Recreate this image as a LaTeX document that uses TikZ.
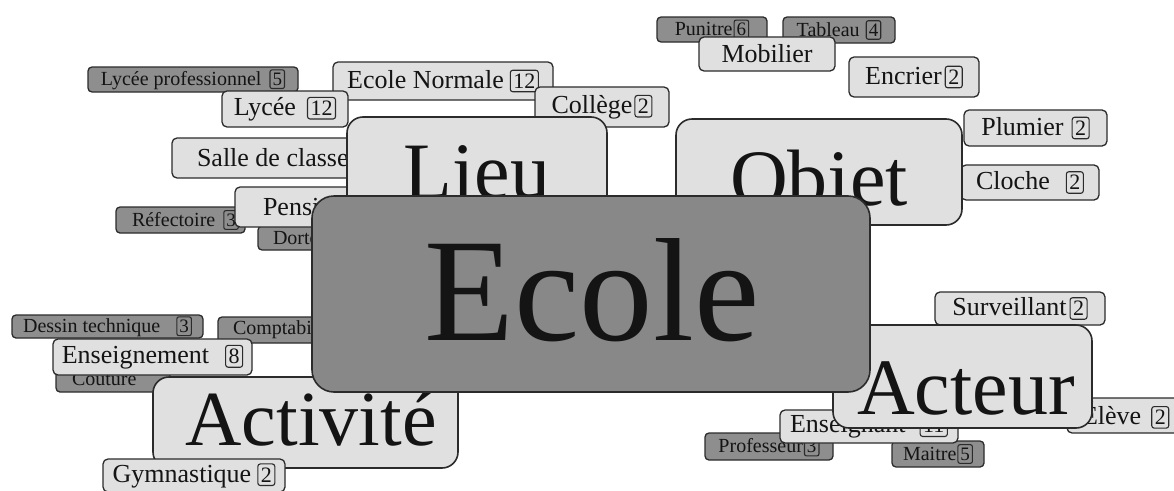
\documentclass[tikz,border=0pt]{standalone}
\usepackage{fontspec}
\setmainfont{Liberation Serif}
\definecolor{lightfill}{HTML}{E0E0E0}
\definecolor{darkfill}{HTML}{8E8E8E}
\definecolor{ecolefill}{HTML}{888888}
\definecolor{edgecol}{HTML}{2B2B2B}
\definecolor{ink}{HTML}{141414}
\tikzset{
 boxbase/.style={draw=edgecol, inner sep=0pt, text=ink, anchor=center},
 lvlthree/.style={boxbase, fill=darkfill, line width=1.3pt, rounded corners=4pt, font=\fontsize{20}{22}\selectfont},
 lvltwo/.style={boxbase, fill=lightfill, line width=1.3pt, rounded corners=5pt, font=\fontsize{26}{28}\selectfont},
 catbox/.style={boxbase, fill=lightfill, line width=1.6pt, rounded corners=16pt},
 ecolebox/.style={boxbase, fill=ecolefill, line width=1.6pt, rounded corners=22pt},
 cattext/.style={anchor=base, inner sep=0pt, text=ink, font=\fontsize{80}{80}\selectfont},
 numbase/.style={draw=edgecol, fill=none, anchor=center, minimum width=0pt, minimum height=0pt, text width=, align=center, line width=1.1pt, text=ink},
 numbig/.style={numbase, rounded corners=2.5pt, inner xsep=3pt, inner ysep=3.5pt, font=\fontsize{22}{22}\selectfont},
 numsmall/.style={numbase, rounded corners=2pt, inner xsep=2.5pt, inner ysep=3pt, font=\fontsize{19}{19}\selectfont},
}
\newcommand\nbig[1]{\tikz[baseline=(nb.base)]\node[numbig](nb){#1};}
\newcommand\nsmall[1]{\tikz[baseline=(ns.base)]\node[numsmall](ns){#1};}
\newcommand\bx[7]{%
 \pgfmathsetmacro\bxw{#5-#3}%
 \pgfmathsetmacro\bxh{#6-#4}%
 \pgfmathsetmacro\bxcx{(#3+#5)/2}%
 \pgfmathsetmacro\bxcy{(#4+#6)/2}%
 \node[#1, minimum width=\bxw pt, minimum height=\bxh pt] (#2) at (\bxcx,\bxcy) {#7};}
\newcommand\lft[2]{\makebox[\bxw pt][l]{\hspace*{#1pt}#2}}
\begin{document}
\begin{tikzpicture}[x=1pt,y=-1pt]
\useasboundingbox (0,0) rectangle (1174,490);
\clip (0,0) rectangle (1174,490);
% level 3 (dark)
\bx{lvlthree}{punitre}{657}{17}{767}{42}{Punitre\hspace{1pt}\nsmall{6}}
\bx{lvlthree}{tableau}{783}{17}{895}{43}{Tableau\hspace{6pt}\nsmall{4}}
\bx{lvlthree}{lyceepro}{88}{67}{298}{92}{Lycée professionnel\hspace{8pt}\nsmall{5}}
\bx{lvlthree}{refectoire}{116}{207}{245}{233}{\lft{16}{Réfectoire\hspace{8pt}\nsmall{3}}}
\bx{lvlthree}{dortoir}{258}{226}{345}{250}{\lft{15}{Dortoir}}
\bx{lvlthree}{dessin}{12}{315}{203}{338}{Dessin technique\hspace{16pt}\nsmall{3}}
\bx{lvlthree}{compta}{218}{317}{335}{343}{\lft{15}{Comptabilité}}
\bx{lvlthree}{couture}{56}{366}{170}{392}{\lft{16}{Couture}}
\bx{lvlthree}{professeur}{705}{433}{833}{460}{Professeur\hspace{1pt}\nsmall{3}}
\bx{lvlthree}{maitre}{892}{441}{984}{467}{Maitre\hspace{1pt}\nsmall{5}}
% level 2 (light)
\bx{lvltwo}{ecolenormale}{333}{62}{553}{100}{Ecole Normale\hspace{6pt}\nbig{12}}
\bx{lvltwo}{lycee}{222}{91}{348}{127}{Lycée\hspace{11pt}\nbig{12}}
\bx{lvltwo}{college}{535}{87}{669}{127}{Collège\hspace{2pt}\nbig{2}}
\bx{lvltwo}{mobilier}{699}{37}{835}{71}{Mobilier}
\bx{lvltwo}{encrier}{849}{57}{979}{97}{Encrier\hspace{3pt}\nbig{2}}
\bx{lvltwo}{plumier}{964}{110}{1107}{146}{Plumier\hspace{8pt}\nbig{2}}
\bx{lvltwo}{cloche}{961}{165}{1099}{200}{Cloche\hspace{16pt}\nbig{2}}
\bx{lvltwo}{salle}{172}{138}{360}{178}{\lft{25}{Salle de classe}}
\bx{lvltwo}{pension}{235}{187}{360}{227}{\lft{28}{Pension}}
\bx{lvltwo}{enseignement}{53}{339}{252}{375}{Enseignement\hspace{16pt}\nbig{8}}
\bx{lvltwo}{surveillant}{935}{292}{1105}{325}{Surveillant\hspace{3pt}\nbig{2}}
\bx{lvltwo}{eleve}{1067}{398}{1200}{433}{\lft{15}{Élève\hspace{10pt}\nbig{2}}}
\bx{lvltwo}{enseignant}{780}{410}{958}{443}{Enseignant\hspace{14pt}\nbig{11}}
% categories
\bx{catbox}{lieu}{347}{117}{607}{240}{}
\node[cattext] (lieuT) at (477,198) {Lieu};
\bx{catbox}{objet}{676}{119}{962}{225}{}
\node[cattext] (objetT) at (819,205) {Objet};
\bx{catbox}{activite}{153}{377}{458}{468}{}
\node[cattext,font=\fontsize{78}{78}\selectfont] (activiteT) at (311,445) {Activité};
\bx{catbox}{acteur}{833}{325}{1092}{428}{}
\node[cattext] (acteurT) at (966,414) {Acteur};
\bx{lvltwo}{gymnastique}{103}{459}{285}{492}{Gymnastique\hspace{6pt}\nbig{2}}
% centre
\bx{ecolebox}{ecole}{312}{196}{870}{392}{}
\node[cattext,font=\fontsize{147}{147}\selectfont] (ecoleT) at (592,340) {Ecole};
\end{tikzpicture}
\end{document}
